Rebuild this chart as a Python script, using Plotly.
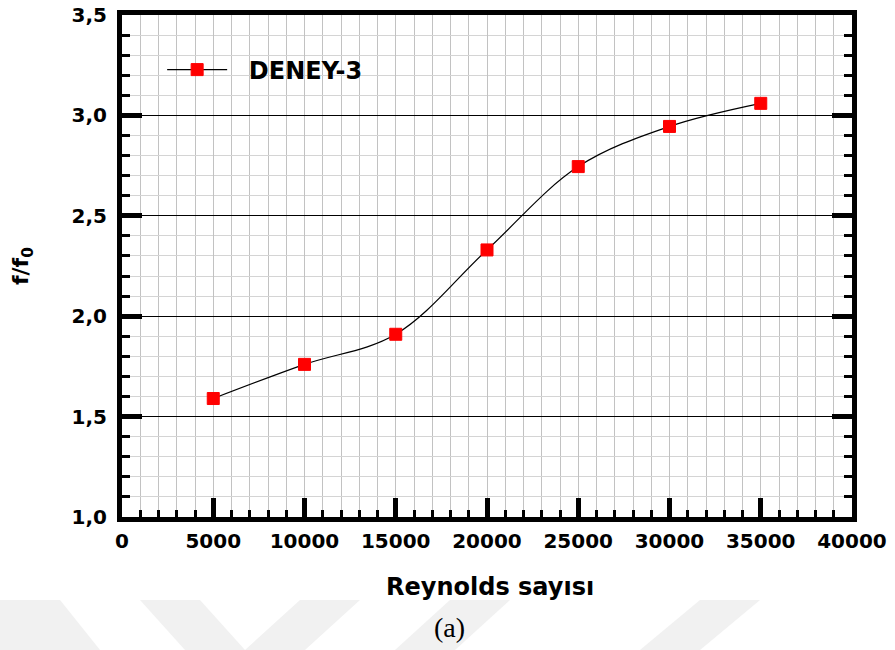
import plotly.graph_objects as go

# Measured friction factor ratio against Reynolds number
reynolds = [5000, 10000, 15000, 20000, 25000, 30000, 35000]
f_ratio = [1.59, 1.76, 1.91, 2.33, 2.745, 2.945, 3.06]
series_name = "\u00a0\u00a0DENEY-3"

x_title = "Reynolds sayısı"
y_title = "f/f<sub>0</sub>"
caption = "(a)"

W, H = 895, 650
L, R, T, B = 122, 43, 15, 133

bold = dict(family="DejaVu Sans", size=20, color="black", weight="bold")

fig = go.Figure()
fig.add_trace(go.Scatter(
    x=reynolds, y=f_ratio, mode="lines+markers", name=series_name,
    line=dict(color="black", width=1.2, shape="spline", smoothing=1.0),
    marker=dict(symbol="square", size=12, color="#ff0000",
                line=dict(color="#ff0000", width=1)),
))

fig.update_xaxes(
    range=[0, 40000], tick0=0, dtick=5000, tickformat="d",
    ticks="inside", ticklen=19, tickwidth=5, tickcolor="black",
    showline=True, linewidth=5, linecolor="black", mirror=True,
    showgrid=True, gridcolor="#c2c2c2", gridwidth=1, zeroline=False,
    minor=dict(dtick=1000, ticks="inside", ticklen=7, tickwidth=3,
               tickcolor="black", showgrid=True, gridcolor="#c2c2c2",
               gridwidth=1),
    tickfont=bold, ticklabelstandoff=2, automargin=False,
)
fig.update_yaxes(
    range=[1.0, 3.5], tick0=1.0, dtick=0.5, tickformat=".1f",
    ticks="inside", ticklen=20, tickwidth=5, tickcolor="black",
    showline=True, linewidth=5, linecolor="black", mirror="ticks",
    showgrid=True, gridcolor="black", gridwidth=1, zeroline=False,
    minor=dict(dtick=0.1, ticks="inside", ticklen=8, tickwidth=3,
               tickcolor="black", showgrid=True, gridcolor="#d4d4d4",
               gridwidth=1),
    tickfont=bold, ticklabelstandoff=6, automargin=False,
)


def px(x, y):
    # pixel position on the page -> paper coordinates
    return (x - L) / (W - L - R), (H - B - y) / (H - T - B)


def poly(points):
    pts = [px(x, y) for x, y in points]
    return "M " + " L ".join(f"{a:.4f},{b:.4f}" for a, b in pts) + " Z"


# faint background chevrons along the bottom edge
mark_color = "#f1f1f1"
shapes = []
for pts in [
    [(0, 600), (60, 600), (100, 650), (0, 650)],
    [(140, 600), (200, 600), (245, 650), (185, 650)],
    [(245, 650), (300, 600), (360, 600), (305, 650)],
    [(395, 650), (450, 600), (510, 600), (455, 650)],
    [(640, 650), (700, 600), (760, 600), (700, 650)],
]:
    shapes.append(dict(type="path", path=poly(pts), xref="paper", yref="paper",
                       fillcolor=mark_color, line=dict(width=0), layer="below"))

fig.update_layout(
    width=W, height=H,
    margin=dict(l=L, r=R, t=T, b=B, autoexpand=False),
    paper_bgcolor="white", plot_bgcolor="white",
    separators=",.",
    shapes=shapes,
    showlegend=True,
    legend=dict(x=0.055, y=px(0, 70)[1], xanchor="left", yanchor="middle",
                bgcolor="rgba(0,0,0,0)", itemwidth=60,
                font=dict(family="DejaVu Sans", size=24, color="black",
                          weight="bold")),
    annotations=[
        dict(text=x_title, x=px(490, 0)[0], y=px(0, 587)[1], xref="paper",
             yref="paper", showarrow=False, xanchor="center",
             yanchor="middle",
             font=dict(family="DejaVu Sans", size=24, color="black",
                       weight="bold")),
        dict(text=y_title, x=px(22, 0)[0], y=px(0, 266)[1], xref="paper",
             yref="paper", showarrow=False, textangle=-90, xanchor="center",
             yanchor="middle",
             font=dict(family="DejaVu Sans", size=22, color="black",
                       weight="bold")),
        dict(text=caption, x=px(449, 0)[0], y=px(0, 627)[1], xref="paper",
             yref="paper", showarrow=False, xanchor="center",
             yanchor="middle",
             font=dict(family="Liberation Serif", size=28, color="black")),
    ],
)

fig.write_html("out.html")
